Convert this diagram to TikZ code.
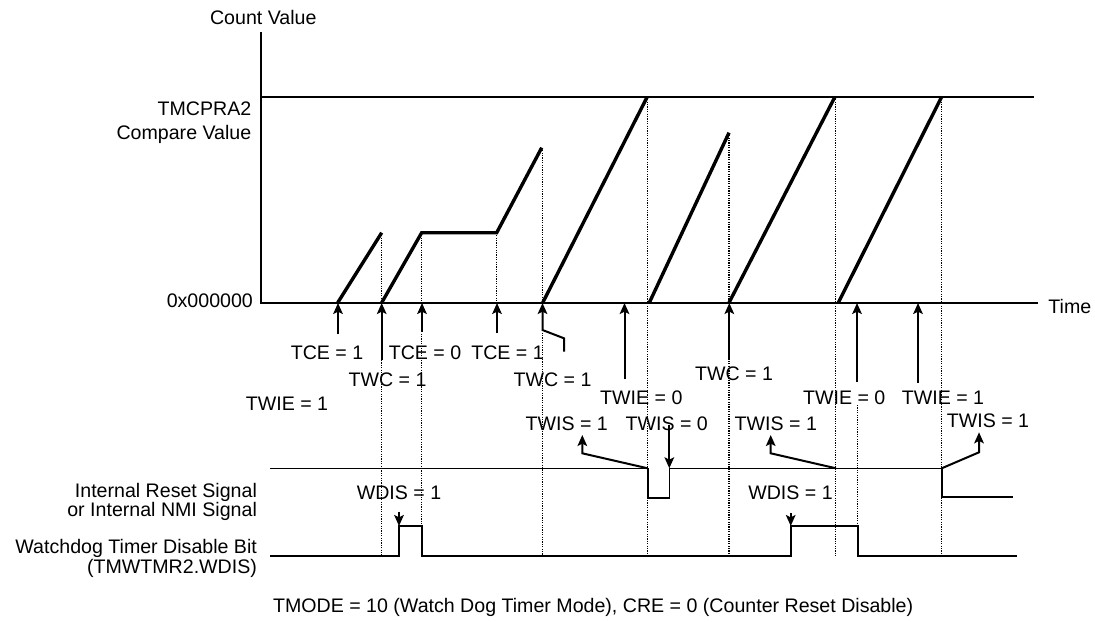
\documentclass[tikz,border=0pt]{standalone}
\usepackage{fontspec}
\setmainfont{Liberation Sans}
\usetikzlibrary{arrows.meta}

\begin{document}
\begin{tikzpicture}[x=0.5pt,y=-0.5pt,
  lbl/.style={font=\fontsize{9.8}{11.8}\selectfont,inner sep=0pt,text height=7pt,text depth=0pt},
  ramp/.style={line width=1.7pt},
  guide/.style={line width=0.55pt,dash pattern=on 0.6pt off 0.6pt},
  sig/.style={line width=1pt},
  rst/.style={line width=0.8pt},
  up/.style={line width=1pt,-{Stealth[length=5.5pt,width=4.8pt,inset=1.2pt]}}]
\useasboundingbox (0,0) rectangle (1095,621);

\draw[line width=1pt] (261,32) -- (261,302.7) -- (1038,302.7);
\draw[line width=0.8pt] (261,96.7) -- (1034,96.7);
\node[lbl] (cnt) at (263.3,17.3) {Count Value};
\node[lbl,anchor=east] (cmpa) at (251.7,108.3) {TMCPRA2};
\node[lbl,anchor=east] (cmpb) at (251.7,132.3) {Compare Value};
\node[lbl,anchor=east] (zero) at (253.3,300) {0x000000};
\node[lbl,anchor=west] (time) at (1048,306.7) {Time};

\draw[ramp] (337.7,302.7) -- (381.7,232.7);
\draw[ramp] (381.7,302.7) -- (421.7,232.7) -- (496.7,232.7) -- (541.7,147.7);
\draw[ramp] (542.7,302.7) -- (647.3,96.7);
\draw[ramp] (649.3,302.7) -- (729,132.7);
\draw[ramp] (729,302.7) -- (835,96.7);
\draw[ramp] (838.3,302.7) -- (941.7,96.7);

\draw[guide] (381.7,232.7) -- (381.7,556);
\draw[guide] (421.7,232.7) -- (421.7,556);
\draw[guide] (496.7,232.7) -- (496.7,302.7);
\draw[guide] (542.2,147.7) -- (542.2,556);
\draw[guide] (647.5,96.7) -- (647.5,556);
\draw[guide] (729,132.7) -- (729,556);
\draw[guide] (835.5,96.7) -- (835.5,556);
\draw[guide] (857.5,405) -- (857.5,556);
\draw[guide] (941.7,96.7) -- (941.7,556);

\node[lbl] (tcea) at (327,352.7) {TCE = 1};
\node[lbl] (tceb) at (425,352.7) {TCE = 0};
\node[lbl] (tcec) at (507.5,352.7) {TCE = 1};
\node[lbl] (twca) at (387.5,379.3) {TWC = 1};
\node[lbl] (twcb) at (552.5,379.3) {TWC = 1};
\node[lbl] (twcc) at (734,373.3) {TWC = 1};
\node[lbl] (twiea) at (287,403.3) {TWIE = 1};
\node[lbl] (twieb) at (641.3,397.3) {TWIE = 0};
\node[lbl] (twiec) at (844.2,397.3) {TWIE = 0};
\node[lbl] (twied) at (943,397.3) {TWIE = 1};
\node[lbl] (twisa) at (566.7,423.3) {TWIS = 1};
\node[lbl] (twisb) at (666.7,423.3) {TWIS = 0};
\node[lbl] (twisc) at (775.8,423) {TWIS = 1};
\node[lbl] (twisd) at (988,420) {TWIS = 1};

\coordinate (ea) at (338,303);   \coordinate (sa) at (338,334);
\coordinate (eb) at (381.7,303); \coordinate (sb) at (381.7,360);
\coordinate (ec) at (422,303);   \coordinate (sc) at (422,332);
\coordinate (ed) at (497,303);   \coordinate (sd) at (497,333);
\coordinate (ee) at (542.5,303); \coordinate (se) at (564,351.7);
\coordinate (ef) at (624.5,303); \coordinate (sf) at (624.5,379.3);
\coordinate (eg) at (729.3,303); \coordinate (sg) at (729.3,360);
\coordinate (eh) at (857,303);   \coordinate (sh) at (857,381.7);
\coordinate (ei) at (918,303);   \coordinate (si) at (918,382.7);
\draw[up] (sa) -- (ea);
\draw[up] (sb) -- (eb);
\draw[up] (sc) -- (ec);
\draw[up] (sd) -- (ed);
\draw[up] (se) -- (564,338.3) -- (542.5,330) -- (ee);
\draw[up] (sf) -- (ef);
\draw[up] (sg) -- (eg);
\draw[up] (sh) -- (eh);
\draw[up] (si) -- (ei);

\node[lbl,anchor=east] (rsta) at (257.3,490) {Internal Reset Signal};
\node[lbl,anchor=east] (rstb) at (257.3,509.3) {or Internal NMI Signal};
\node[lbl,anchor=east] (wdta) at (257.3,546.7) {Watchdog Timer Disable Bit};
\node[lbl,anchor=east] (wdtb) at (257.3,566) {(TMWTMR2.WDIS)};

\draw[rst] (270,468.3) -- (647.7,468.3) -- (647.7,497.7) -- (669.3,497.7) -- (669.3,468.3)
  -- (941.7,468.3) -- (941.7,496.7) -- (1013.3,496.7);
\draw[sig] (270,556) -- (399,556) -- (399,526) -- (422.3,526) -- (422.3,556) -- (790.7,556)
  -- (790.7,526) -- (857.7,526) -- (857.7,556) -- (1017.3,556);

\node[lbl] (wdisa) at (399,492.7) {WDIS = 1};
\node[lbl] (wdisb) at (790.5,492.7) {WDIS = 1};

\coordinate (ra) at (647.7,468.3); \coordinate (ta) at (582.3,435);
\coordinate (rb) at (669.3,468.3); \coordinate (tb) at (669.3,425);
\coordinate (rc) at (836,468.3);   \coordinate (tc) at (770.7,435);
\coordinate (rd) at (941.7,468.3); \coordinate (td) at (979,432.3);
\draw[up] (ra) -- (582.3,453.3) -- (ta);
\draw[up] (tb) -- (rb);
\draw[up] (rc) -- (770.7,453.3) -- (tc);
\draw[up] (rd) -- (979,452.3) -- (td);
\coordinate (wa) at (399,511.7); \coordinate (pa) at (399,526);
\coordinate (wb) at (790.7,513.3); \coordinate (pb) at (790.7,526);
\draw[up] (wa) -- (pa);
\draw[up] (wb) -- (pb);

\node[lbl,anchor=west] (mode) at (272.7,605) {TMODE = 10 (Watch Dog Timer Mode), CRE = 0 (Counter Reset Disable)};
\end{tikzpicture}
\end{document}
